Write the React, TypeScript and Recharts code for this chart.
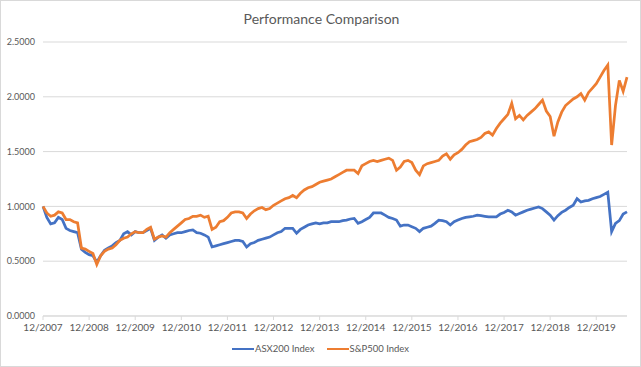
import { LineChart, Line, XAxis, YAxis, CartesianGrid, Legend } from 'recharts';

// monthly index levels, 12/2007 = 1.0
const asx200 = [
  1.0, 0.9, 0.84, 0.85, 0.9, 0.88, 0.8, 0.78, 0.77, 0.76,
  0.61, 0.58, 0.56, 0.55, 0.49, 0.55, 0.6, 0.62, 0.64, 0.67,
  0.69, 0.75, 0.77, 0.74, 0.77, 0.76, 0.76, 0.78, 0.8, 0.69,
  0.72, 0.74, 0.71, 0.74, 0.75, 0.76, 0.76, 0.77, 0.78, 0.785,
  0.76, 0.755, 0.74, 0.72, 0.63, 0.64, 0.65, 0.66, 0.67, 0.68,
  0.69, 0.69, 0.68, 0.63, 0.66, 0.67, 0.69, 0.7, 0.71, 0.72,
  0.74, 0.76, 0.77, 0.8, 0.8, 0.8, 0.755, 0.79, 0.81, 0.83,
  0.84, 0.85, 0.84, 0.85, 0.85, 0.86, 0.86, 0.86, 0.87, 0.875,
  0.885, 0.89, 0.845, 0.86, 0.88, 0.9, 0.94, 0.94, 0.94, 0.92,
  0.9, 0.89, 0.875, 0.82, 0.83, 0.83, 0.815, 0.8, 0.77, 0.8,
  0.81, 0.82, 0.845, 0.875, 0.87, 0.86, 0.83, 0.86, 0.875, 0.89,
  0.9, 0.905, 0.91, 0.92, 0.915, 0.91, 0.905, 0.905, 0.905, 0.93,
  0.945, 0.965, 0.95, 0.92, 0.935, 0.95, 0.965, 0.975, 0.985, 0.995,
  0.98, 0.95, 0.92, 0.875, 0.915, 0.945, 0.965, 0.99, 1.01, 1.07,
  1.04, 1.05, 1.055, 1.07, 1.08, 1.09, 1.11, 1.13, 0.77, 0.845,
  0.87, 0.93, 0.95,
];

const sp500 = [
  1.0, 0.94, 0.91, 0.92, 0.95, 0.94, 0.88, 0.88, 0.86, 0.85,
  0.62, 0.61, 0.59, 0.57, 0.47, 0.55, 0.59, 0.61, 0.62, 0.65,
  0.69, 0.71, 0.72, 0.75, 0.77, 0.76, 0.76, 0.79, 0.81, 0.7,
  0.72, 0.73, 0.72, 0.76, 0.79, 0.82, 0.85, 0.88, 0.89, 0.91,
  0.91, 0.92, 0.9, 0.91, 0.79, 0.81, 0.86, 0.87, 0.9, 0.94,
  0.95, 0.95, 0.94, 0.89, 0.93, 0.96, 0.98, 0.99, 0.97, 0.98,
  1.01, 1.03, 1.05, 1.07, 1.08, 1.1, 1.08, 1.12, 1.15, 1.17,
  1.18, 1.2, 1.22, 1.23, 1.24, 1.25, 1.27, 1.29, 1.31, 1.33,
  1.33, 1.33, 1.3, 1.37, 1.39, 1.41, 1.42, 1.41, 1.42, 1.43,
  1.44, 1.42, 1.33, 1.36, 1.41, 1.42, 1.4, 1.33, 1.29, 1.37,
  1.39, 1.4, 1.41, 1.42, 1.46, 1.48, 1.43, 1.47, 1.49, 1.52,
  1.56, 1.59, 1.6, 1.61, 1.63, 1.665, 1.68, 1.65, 1.71, 1.76,
  1.8, 1.84, 1.94, 1.8, 1.83, 1.79, 1.83, 1.86, 1.89, 1.93,
  1.97, 1.87, 1.82, 1.64, 1.77, 1.86, 1.92, 1.95, 1.98, 2.0,
  2.03, 1.97, 2.04, 2.08, 2.12, 2.18, 2.24, 2.29, 1.56, 1.92,
  2.15, 2.05, 2.18,
];

const yTicks = [0, 0.5, 1, 1.5, 2, 2.5];

// month labels starting 12/2007
const months = asx200.map((_, i) => {
  const total = 2007 * 12 + 11 + i;
  return `${(total % 12) + 1}/${Math.floor(total / 12)}`;
});

const chartData = months.map((m, i) => ({
  month: m,
  'ASX200 Index': asx200[i],
  'S&P500 Index': sp500[i],
}));

const BLUE = '#4472C4';
const ORANGE = '#ED7D31';

function LegendContent() {
  const items = [
    { name: 'ASX200 Index', color: BLUE },
    { name: 'S&P500 Index', color: ORANGE },
  ];
  return (
    <div style={{ display: 'flex', justifyContent: 'center', gap: 12, fontSize: 9.5, color: '#595959' }}>
      {items.map((it) => (
        <div key={it.name} style={{ display: 'flex', alignItems: 'center' }}>
          <span style={{ display: 'inline-block', width: 22, height: 2, background: it.color, marginRight: 1 }} />
          <span>{it.name}</span>
        </div>
      ))}
    </div>
  );
}

export default function App() {
  return (
    <div
      style={{
        position: 'relative',
        width: 641,
        height: 367,
        boxSizing: 'border-box',
        border: '1px solid #d9d9d9',
        background: '#fff',
        fontFamily: 'Lato, "Open Sans", sans-serif',
      }}
    >
      <style>{'body{margin:0}'}</style>
      <div
        style={{
          position: 'absolute',
          top: 9,
          left: 0,
          width: 641,
          textAlign: 'center',
          fontSize: 14,
          color: '#595959',
        }}
      >
        Performance Comparison
      </div>
      <div style={{ position: 'absolute', left: -1, top: -1 }}>
        <LineChart width={641} height={367} data={chartData} margin={{ top: 42, right: 14, bottom: 21, left: 0 }}>
          <CartesianGrid vertical={false} stroke="#d9d9d9" />
          <XAxis
            dataKey="month"
            interval={11}
            axisLine={{ stroke: '#d9d9d9' }}
            tickLine={{ stroke: '#d9d9d9' }}
            tickSize={4}
            tickMargin={4}
            tick={{ fontSize: 10, fill: '#595959' }}
            height={30}
          />
          <YAxis
            domain={[0, 2.5]}
            ticks={yTicks}
            width={43}
            axisLine={false}
            tickLine={false}
            tickFormatter={(v) => Number(v).toFixed(4)}
            tick={{ fontSize: 9, fill: '#595959' }}
          />
          <Legend
            verticalAlign="middle"
            align="center"
            layout="horizontal"
            content={<LegendContent />}
            wrapperStyle={{ top: 343, left: 0, width: 641 }}
          />
          <Line
            type="linear"
            dataKey="ASX200 Index"
            stroke={BLUE}
            strokeWidth={2.75}
            dot={false}
            isAnimationActive={false}
          />
          <Line
            type="linear"
            dataKey="S&P500 Index"
            stroke={ORANGE}
            strokeWidth={2.75}
            dot={false}
            isAnimationActive={false}
          />
        </LineChart>
      </div>
    </div>
  );
}
